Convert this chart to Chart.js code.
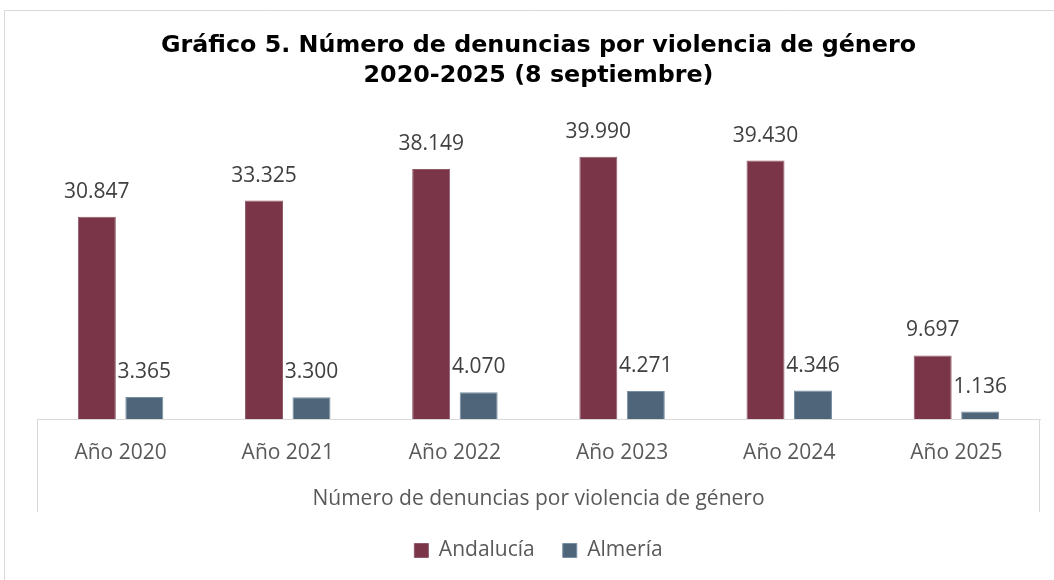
<!DOCTYPE html>
<html>
<head>
<meta charset="utf-8">
<script src="https://cdn.jsdelivr.net/npm/chart.js@4/dist/chart.umd.min.js"></script>
<style>
html,body{margin:0;padding:0;background:#fff;}
#wrap{position:relative;width:1054px;height:580px;}
canvas{display:block;}
</style>
</head>
<body>
<div id="wrap"><canvas id="c" width="1054" height="580"></canvas></div>
<script>
const categories = ['Año 2020','Año 2021','Año 2022','Año 2023','Año 2024','Año 2025'];
const andalucia = [30847, 33325, 38149, 39990, 39430, 9697];
const almeria = [3365, 3300, 4070, 4271, 4346, 1136];
const seriesNames = ['Andalucía','Almería'];
const axisTitle = 'Número de denuncias por violencia de género';
const titleLines = ['Gráfico 5. Número de denuncias por violencia de género','2020-2025 (8 septiembre)'];

function fmt(v){
  return String(v).replace(/\B(?=(\d{3})+(?!\d))/g,'.');
}

const frame = {
  id:'frame',
  beforeDraw(chart){
    const ctx = chart.ctx;
    ctx.save();
    ctx.strokeStyle = '#d9d9d9';
    ctx.lineWidth = 1;
    ctx.beginPath();
    ctx.moveTo(4.5, 580);
    ctx.lineTo(4.5, 10.5);
    ctx.lineTo(1054, 10.5);
    ctx.stroke();
    ctx.restore();
  },
  afterDraw(chart){
    const ctx = chart.ctx;
    const x = chart.scales.x;
    ctx.save();
    ctx.strokeStyle = '#d9d9d9';
    ctx.lineWidth = 1;
    ctx.beginPath();
    const l = Math.round(x.left)+0.5, r = Math.round(x.right)-0.5;
    ctx.moveTo(l, x.top); ctx.lineTo(l, x.bottom);
    ctx.moveTo(r, x.top); ctx.lineTo(r, x.bottom);
    ctx.stroke();
    ctx.restore();
  }
};

const valueLabels = {
  id:'valueLabels',
  afterDatasetsDraw(chart){
    const ctx = chart.ctx;
    ctx.save();
    ctx.font = '21px "Open Sans"';
    ctx.fillStyle = '#404040';
    ctx.textAlign = 'center';
    ctx.textBaseline = 'alphabetic';
    chart.data.datasets.forEach((ds, i) => {
      const meta = chart.getDatasetMeta(i);
      meta.data.forEach((bar, j) => {
        ctx.fillText(fmt(ds.data[j]), bar.x, bar.y - 19);
      });
    });
    ctx.restore();
  }
};

new Chart(document.getElementById('c'), {
  type:'bar',
  data:{
    labels: categories,
    datasets:[
      {label: seriesNames[0], data: andalucia, backgroundColor:'#7a3549', borderColor:'#8e5a6a', borderWidth:1, categoryPercentage:0.568, barPercentage:0.8},
      {label: seriesNames[1], data: almeria, backgroundColor:'#4f667a', borderColor:'#7890a3', borderWidth:1, categoryPercentage:0.568, barPercentage:0.8}
    ]
  },
  options:{
    responsive:false,
    animation:false,
    events:[],
    layout:{padding:{left:37, right:14, top:0, bottom:9}},
    plugins:{
      title:{
        display:true,
        text: titleLines,
        color:'#000',
        font:{family:'"DejaVu Sans"', size:23.8, weight:'bold', lineHeight:30/23.8},
        padding:{top:31, bottom:33}
      },
      legend:{
        position:'bottom',
        labels:{
          color:'#595959',
          font:{family:'"Open Sans"', size:21},
          boxWidth:14, boxHeight:14, padding:28
        }
      },
      tooltip:{enabled:false}
    },
    scales:{
      y:{display:false, min:0, max:45000},
      x:{
        grid:{display:false, drawTicks:false},
        border:{display:true, color:'#d9d9d9', width:1},
        ticks:{color:'#595959', font:{family:'"Open Sans"', size:21}, padding:21, maxRotation:0},
        title:{display:true, text: axisTitle, color:'#595959', font:{family:'"Open Sans"', size:21}, padding:{top:0, bottom:0}},
        afterFit(scale){ scale.height = 93; }
      }
    }
  },
  plugins:[frame, valueLabels]
});
</script>
</body>
</html>
